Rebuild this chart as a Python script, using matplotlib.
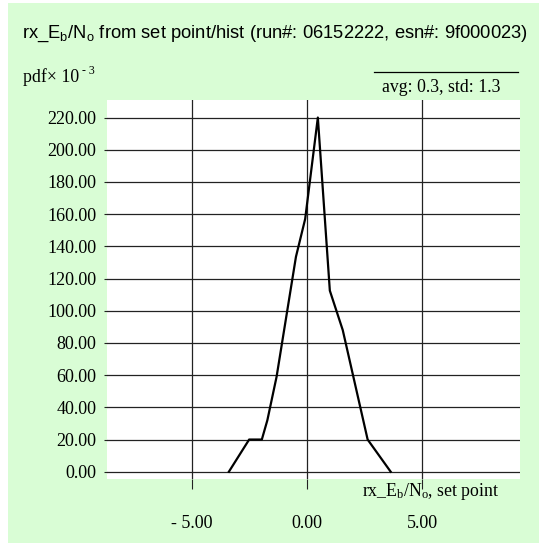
import matplotlib
matplotlib.use("Agg")
import matplotlib.pyplot as plt
from matplotlib.patches import Rectangle
from matplotlib.lines import Line2D

# ---- data ----
x_vals = [-3.40, -2.52, -1.97, -1.73, -1.33, -0.49, -0.09, 0.46, 0.98, 1.54, 2.62, 3.62]
pdf_vals = [0.0, 20.0, 20.0, 32.0, 59.0, 133.5, 157.0, 220.0, 112.5, 88.0, 20.0, 0.0]
y_ticks = [0, 20, 40, 60, 80, 100, 120, 140, 160, 180, 200, 220]
x_ticks = [-5, 0, 5]
x_tick_labels = ["- 5.00", "0.00", "5.00"]
title_text = r"rx_E$\mathregular{_b}$/N$\mathregular{_o}$ from set point/hist (run#: 06152222, esn#: 9f000023)"
xlabel_text = r"rx_E$\mathregular{_b}$/N$\mathregular{_o}$, set point"
stats_text = "avg: 0.3, std: 1.3"

W, H = 539, 546
fig = plt.figure(figsize=(W / 100, H / 100), dpi=100)
fig.patch.set_facecolor("white")

def fx(x):
    return x / W

def fy(y):
    return 1 - y / H

# green panel
fig.patches.append(Rectangle((fx(8), fy(543)), fx(539) - fx(8), fy(3) - fy(543),
                             transform=fig.transFigure, facecolor="#d9fdd5",
                             edgecolor="none", zorder=0))

# axes (white plot area)
L, R, T, B = 106.7, 520, 100, 478.5
ax = fig.add_axes([fx(L), fy(B), fx(R) - fx(L), fy(T) - fy(B)])
ax.set_facecolor("white")
ax.set_zorder(1)
for s in ax.spines.values():
    s.set_visible(False)

ax.set_xlim(-8.70, 9.23)
ax.set_ylim(-4.2, 230.9)

ax.set_yticks(y_ticks)
ax.set_yticklabels([f"{v:.2f}" for v in y_ticks])
ax.set_xticks(x_ticks)
ax.set_xticklabels(x_tick_labels)

serif = "Liberation Serif"
for lab in ax.get_yticklabels() + ax.get_xticklabels():
    lab.set_fontfamily(serif)
    lab.set_fontsize(13)

ax.tick_params(axis="y", length=2.0, width=0.8, color="#222222", pad=5.5)
ax.tick_params(axis="x", length=7.2, width=0.8, color="#222222", pad=19.0)

ax.grid(True, color="#222222", linewidth=0.9)
ax.set_axisbelow(True)

ax.plot(x_vals, pdf_vals, color="black", linewidth=1.6, zorder=3)

# title
fig.text(fx(22), fy(34), title_text, fontfamily="Liberation Sans", fontsize=13.2,
         ha="left", va="center", color="black")

# y-axis unit label
fig.text(fx(23), fy(77), "pdf× 10", fontfamily=serif, fontsize=12.8,
         ha="left", va="center")
fig.text(fx(82), fy(71), "- 3", fontfamily=serif, fontsize=8.5,
         ha="left", va="center")

# stats box with overline
fig.lines.append(Line2D([fx(374), fx(518)], [fy(72.3), fy(72.3)],
                        transform=fig.transFigure, color="black", linewidth=0.9))
fig.text(fx(501), fy(87), stats_text, fontfamily=serif, fontsize=12.8,
         ha="right", va="center")

# x-axis label
fig.text(fx(499), fy(491), xlabel_text, fontfamily=serif, fontsize=12.8,
         ha="right", va="center")

fig.savefig("out.png", dpi=100, facecolor=fig.get_facecolor())
